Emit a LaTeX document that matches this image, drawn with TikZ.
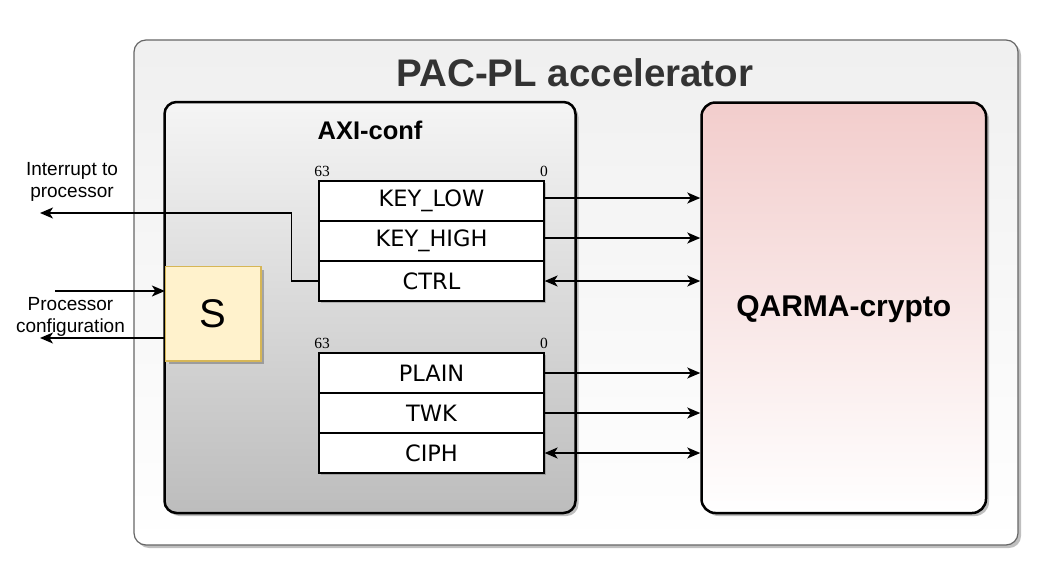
\documentclass[tikz,border=0pt]{standalone}
\usepackage{fontspec}
\setmainfont{Liberation Sans}
\newfontfamily\regfont{DejaVu Sans}
\newfontfamily\numfont{Liberation Serif}
\usetikzlibrary{arrows.meta,shadows,calc}
\definecolor{sfill}{HTML}{FFF2CC}
\definecolor{sdraw}{HTML}{D6B656}
\definecolor{qtop}{HTML}{F2CDCC}
\definecolor{titlegray}{HTML}{333333}
\begin{document}
\begin{tikzpicture}[x=1pt,y=-1pt,
  shadowed/.style={drop shadow={shadow xshift=3pt,shadow yshift=-3pt,fill=black,opacity=0.25}},
  outerbox/.style={draw=black!60,line width=1.2pt,rounded corners=12pt,top color=black!6,bottom color=white,shadowed,inner sep=0pt},
  axibox/.style={draw=black,line width=2.5pt,rounded corners=12pt,top color=black!4,bottom color=black!26,shadowed,inner sep=0pt},
  qbox/.style={draw=black,line width=2.5pt,rounded corners=14pt,top color=qtop,bottom color=white,shadowed,inner sep=0pt},
  sbox/.style={draw=sdraw,line width=1.2pt,fill=sfill,shadowed,inner sep=0pt,font=\fontsize{40}{44}\selectfont},
  regrow/.style={draw=black,line width=1.3pt,fill=white,minimum width=225pt,minimum height=40pt,inner sep=0pt,
     font=\regfont\fontsize{22.5}{26}\selectfont,drop shadow={shadow xshift=2pt,shadow yshift=-2pt,fill=black,opacity=0.18}},
  bitnum/.style={font=\numfont\fontsize{15.5}{16}\selectfont,inner sep=0pt},
  lbl/.style={font=\fontsize{19}{22}\selectfont,align=center,inner sep=0pt},
  arr/.style={line width=1.5pt,-{Stealth[length=13pt,width=11pt,inset=3.5pt]}},
  darr/.style={line width=1.5pt,{Stealth[length=13pt,width=11pt,inset=3.5pt]}-{Stealth[length=13pt,width=11pt,inset=3.5pt]}}
]
\useasboundingbox (0,0) rectangle (1062,584);
\fill[white] (0,0) rectangle (1062,584);

% containers
\node[outerbox,minimum width=884pt,minimum height=505pt] (outer) at (576,292.5) {};
\node[font=\bfseries\fontsize{38.5}{42}\selectfont,text=titlegray,inner sep=0pt] (title) at (575,73) {PAC-PL accelerator};

\node[axibox,minimum width=411pt,minimum height=411pt] (axi) at (370,307.5) {};
\node[font=\bfseries\fontsize{25.5}{28}\selectfont,inner sep=0pt] (axititle) at (370,130) {AXI-conf};

\node[qbox,minimum width=284.5pt,minimum height=410.5pt] (qarma) at (843.75,307.75) {};
\node[font=\bfseries\fontsize{30}{33}\selectfont,inner sep=0pt] (qtitle) at (843.75,309) {QARMA-crypto};

% S block
\node[sbox,minimum width=95.5pt,minimum height=94.3pt] (s) at (213.25,313.85) {S};

% registers
\node[regrow] (klow)  at (431.5,201) {KEY\_LOW};
\node[regrow] (khigh) at (431.5,241) {KEY\_HIGH};
\node[regrow] (ctrl)  at (431.5,281) {CTRL};
\node[bitnum] (n63a) at (322,171.5) {63};
\node[bitnum] (n0a)  at (544,171.5) {0};

\node[regrow] (plain) at (431.5,373) {PLAIN};
\node[regrow] (twk)   at (431.5,413) {TWK};
\node[regrow] (ciph)  at (431.5,453) {CIPH};
\node[bitnum] (n63b) at (322,343.5) {63};
\node[bitnum] (n0b)  at (544,343.5) {0};

% arrows to QARMA
\draw[arr]  ([yshift=3pt]klow.east) -- ([yshift=3pt]klow.east -| qarma.west);
\draw[arr]  ([yshift=3pt]khigh.east) -- ([yshift=3pt]khigh.east -| qarma.west);
\draw[darr] (ctrl.east) -- (ctrl.east -| qarma.west);
\draw[arr]  (plain.east) -- (plain.east -| qarma.west);
\draw[arr]  (twk.east) -- (twk.east -| qarma.west);
\draw[darr] (ciph.east) -- (ciph.east -| qarma.west);

% external signals
\coordinate (intend) at (40,213);
\coordinate (pin) at (55,291);
\coordinate (pout) at (40,338);
\draw[arr] (ctrl.west) -- ++(-27,0) |- (intend);
\draw[arr] (pin) -- (pin -| s.west);
\draw[arr] (pout -| s.west) -- (pout);

\node[lbl] (intlbl) at (72,182) {Interrupt to\\processor};
\node[lbl] (cfglbl) at (70.5,317) {Processor\\configuration};
\end{tikzpicture}
\end{document}
